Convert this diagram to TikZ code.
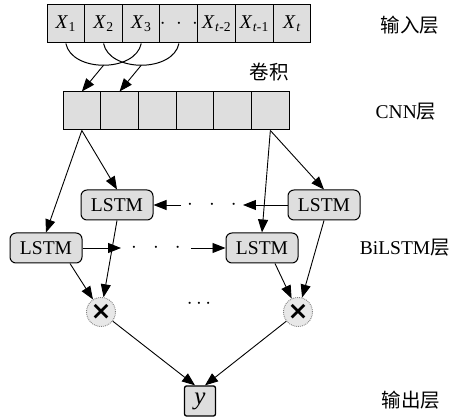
\documentclass[tikz,border=0pt]{standalone}
\usepackage{fontspec}
\setmainfont{Liberation Serif}
\newfontfamily\cjk{Noto Sans CJK SC}
\newfontfamily\opfont{DejaVu Sans}
\usetikzlibrary{arrows.meta}

\tikzset{
  cell/.style={draw, line width=1pt, fill=black!13, minimum width=37.7pt, minimum height=38pt, inner sep=0pt},
  lstm/.style={draw, line width=1pt, rounded corners=6pt, fill=black!13, minimum width=72pt, minimum height=30pt, inner sep=0pt},
  mul/.style={circle, draw=black!50, densely dotted, line width=0.9pt, fill=black!9, minimum size=29pt, inner sep=0pt,
    font=\opfont\bfseries\fontsize{25}{25}\selectfont},
  outbox/.style={draw, line width=1.3pt, rounded corners=2pt, fill=black!13, minimum width=31pt, minimum height=30pt, inner sep=0pt},
  lab/.style={font=\fontsize{19.5}{22}\selectfont},
  arr/.style={-{Triangle[length=13pt,width=10pt]}, line width=0.9pt},
  dotsbox/.style={inner xsep=6pt, inner ysep=0pt}
}
\newcommand{\xsub}[1]{\textit{X}\kern0.5pt\textsubscript{#1}}

\begin{document}
\begin{tikzpicture}[x=1pt, y=-1pt, font=\fontsize{19.5}{22}\selectfont]
\useasboundingbox (0,0) rectangle (451,419);

% input sequence
\foreach \t [count=\i] in {{\xsub{1}},{\xsub{2}},{\xsub{3}},{$\cdot\;\cdot\;\cdot$},{\xsub{\textit{t}-2}},{\xsub{\textit{t}-1}},{\xsub{\textit{t}}}}
  \node[cell] (x\i) at ({47+37.7*(\i-0.5)},24) {\t};

% cnn feature row
\foreach \i in {1,...,6}
  \node[cell] (c\i) at ({63+37.7*(\i-0.5)},111) {};

% convolution windows
\draw[line width=1pt] (x1.south) .. controls +(6,29) and +(-6,29) .. (x3.south) coordinate[pos=0.5] (k1);
\draw[line width=1pt] (x2.south) .. controls +(6,29) and +(-6,29) .. (x4.south) coordinate[pos=0.5] (k2);
\draw[arr] (k1) -- (c1.north);
\draw[arr] (k2) -- (c2.north);

% bilstm cells
\node[lstm] (ul) at (117,205) {LSTM};
\node[lstm] (ur) at (324,205) {LSTM};
\node[lstm] (ll) at (46,248) {LSTM};
\node[lstm] (lr) at (262,248) {LSTM};
\node[dotsbox] (d1) at (212,205) {$\cdot\;\;\cdot\;\;\cdot$};
\node[dotsbox,inner xsep=10pt] (d2) at (156,248) {$\cdot\;\;\cdot\;\;\cdot$};

\draw[arr] (c1.south) -- (ll.north);
\draw[arr] (c1.south) -- (ul.north);
\draw[arr] (c6.south) -- (lr.north);
\draw[arr] (c6.south) -- (ur.north);

\draw[arr] (ur.west) -- (d1.east);
\draw[arr] (d1.west) -- (ul.east);
\draw[arr] (ll.east) -- (d2.west);
\draw[arr] (d2.east) -- (lr.west);

% merge
\node[mul] (m1) at (101,312) {×};
\node[mul] (m2) at (298,312) {×};
\node (d3) at (199,304) {$\cdots$};

\draw[arr] ([xshift=24pt]ll.south) -- (m1);
\draw[arr] (ul.south) -- (m1);
\draw[arr] ([xshift=13pt]lr.south) -- (m2);
\draw[arr] (ur.south) -- (m2);

% output
\node[outbox] (yy) at (200,401) {\fontsize{25}{25}\selectfont\textit{y}};
\draw[arr] (m1) -- ([xshift=-5pt]yy.north);
\draw[arr] (m2) -- ([xshift=5pt]yy.north);

% layer names
\node[lab] (lin) at (410,25) {\cjk 输入层};
\node[lab] (lconv) at (269,72) {\cjk 卷积};
\node[lab] (lcnn) at (406,112) {CNN{\cjk 层}};
\node[lab, anchor=east, inner xsep=1pt] (lbi) at (451,248) {BiLSTM{\cjk 层}};
\node[lab] (lout) at (411,400) {\cjk 输出层};
\end{tikzpicture}
\end{document}
